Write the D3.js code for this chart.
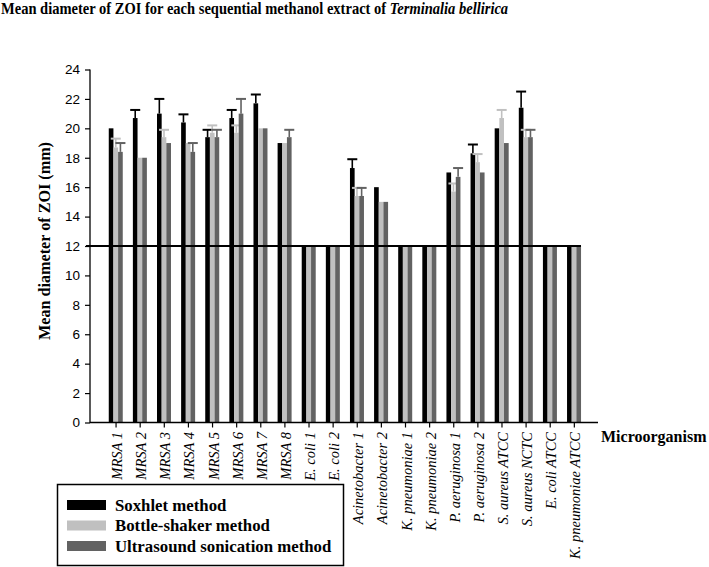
<!DOCTYPE html>
<html>
<head>
<meta charset="utf-8">
<script src="https://cdn.jsdelivr.net/npm/d3@7"></script>
<style>
  html, body { margin: 0; padding: 0; background: #fff; }
  svg { display: block; }
</style>
</head>
<body>
<svg id="chart" width="709" height="567"></svg>
<script>
const categories = ["MRSA 1","MRSA 2","MRSA 3","MRSA 4","MRSA 5","MRSA 6","MRSA 7","MRSA 8",
  "E. coli 1","E. coli 2","Acinetobacter 1","Acinetobacter 2","K. pneumoniae 1","K. pneumoniae 2",
  "P. aeruginosa 1","P. aeruginosa 2","S. aureus ATCC","S. aureus NCTC","E. coli ATCC","K. pneumoniae ATCC"];
const seriesNames = ["Soxhlet method","Bottle-shaker method","Ultrasound sonication method"];
const seriesColors = ["#000000","#c0c0c0","#626262"];
const soxhlet   = [20, 20.7, 21, 20.4, 19.4, 20.7, 21.7, 19, 12, 12, 17.3, 16, 12, 12, 17, 18.3, 20, 21.4, 12, 12];
const soxhletErr= [0, 0.55, 1, 0.55, 0.5, 0.55, 0.6, 0, 0, 0, 0.6, 0, 0, 0, 0, 0.6, 0, 1.1, 0, 0];
const bottle    = [18.7, 18, 19.4, 19, 19.7, 19.7, 20, 19, 12, 12, 15.4, 15, 12, 12, 15.7, 17.7, 20.7, 19.4, 12, 12];
const bottleErr = [0.6, 0, 0.5, 0, 0.5, 0.5, 0, 0, 0, 0, 0.55, 0, 0, 0, 0.55, 0.55, 0.55, 0.5, 0, 0];
const ultra     = [18.4, 18, 19, 18.4, 19.4, 21, 20, 19.4, 12, 12, 15.4, 15, 12, 12, 16.7, 17, 19, 19.4, 12, 12];
const ultraErr  = [0.6, 0, 0, 0.6, 0.5, 1, 0, 0.5, 0, 0, 0.55, 0, 0, 0, 0.6, 0, 0, 0.5, 0, 0];
const yTicks = [0,2,4,6,8,10,12,14,16,18,20,22,24];
const refLine = 12;

const values = [soxhlet, bottle, ultra];
const errors = [soxhletErr, bottleErr, ultraErr];

const svg = d3.select("#chart");
const serif = "'Liberation Serif','Times New Roman',serif";
const sans = "'Liberation Sans',Arial,sans-serif";

const y = d3.scaleLinear().domain([0, 24]).range([422.5, 69.5]);
const x = d3.scaleBand().domain(categories).range([104, 586.4]).padding(0);
const xs = d3.scaleBand().domain([0,1,2]).range([-7.3, 6.7]).padding(0);

// title (horizontally condensed like the reference)
const title = svg.append("text").attr("transform", "translate(1,14) scale(0.88,1)")
  .attr("font-family", serif).attr("font-weight", "bold").attr("font-size", 16.5);
title.append("tspan").text("Mean diameter of ZOI for each sequential methanol extract of ");
title.append("tspan").attr("font-style", "italic").text("Terminalia bellirica");

// bars
const groups = svg.append("g").selectAll("g").data(categories).join("g")
  .attr("transform", c => `translate(${x(c) + x.bandwidth()/2},0)`);
groups.each(function(c, i) {
  const g = d3.select(this);
  [0,1,2].forEach(s => {
    const v = values[s][i];
    g.append("rect").attr("x", xs(s)).attr("width", xs.bandwidth())
      .attr("y", y(v)).attr("height", y(0) - y(v)).attr("fill", seriesColors[s]);
    const e = errors[s][i];
    if (e > 0) {
      const cx = xs(s) + xs.bandwidth()/2;
      g.append("line").attr("x1", cx).attr("x2", cx).attr("y1", y(v)).attr("y2", y(v + e))
        .attr("stroke", seriesColors[s]).attr("stroke-width", 1.6);
      g.append("line").attr("x1", cx - 5).attr("x2", cx + 5).attr("y1", y(v + e)).attr("y2", y(v + e))
        .attr("stroke", seriesColors[s]).attr("stroke-width", 2);
    }
  });
});

// reference line at 12
svg.append("line").attr("x1", 86).attr("x2", 581).attr("y1", y(refLine)).attr("y2", y(refLine))
  .attr("stroke", "#000").attr("stroke-width", 2);

// y axis
const yAxis = svg.append("g").attr("transform", "translate(90,0)")
  .call(d3.axisLeft(y).tickValues(yTicks).tickSize(5).tickPadding(5));
yAxis.select(".domain").remove();
yAxis.append("line").attr("x1", 0).attr("x2", 0).attr("y1", y(0) + 0.5).attr("y2", y(24))
  .attr("stroke", "#000").attr("stroke-width", 1.3);
yAxis.selectAll(".tick line").attr("stroke", "#000").attr("stroke-width", 1.2);
yAxis.selectAll(".tick text").attr("font-family", sans).attr("font-size", 13.5).attr("fill", "#000");

// x axis
const xAxis = svg.append("g").attr("transform", `translate(0,${y(0)})`)
  .call(d3.axisBottom(x).tickSize(5).tickFormat(""));
xAxis.select(".domain").remove();
xAxis.append("line").attr("x1", 90).attr("x2", 598).attr("y1", 0).attr("y2", 0)
  .attr("stroke", "#000").attr("stroke-width", 1.3);
xAxis.selectAll(".tick line").attr("stroke", "#000").attr("stroke-width", 1.2);

// x labels
svg.append("g").selectAll("text").data(categories).join("text")
  .attr("transform", c => `translate(${x(c) + x.bandwidth()/2 + 1},432) rotate(-90)`)
  .attr("text-anchor", "end").attr("dy", "0.35em")
  .attr("font-family", serif).attr("font-style", "italic").attr("font-size", 14.5)
  .text(c => c);

// axis titles
svg.append("text").attr("transform", "translate(50,241) rotate(-90)")
  .attr("text-anchor", "middle").attr("font-family", serif).attr("font-weight", "bold")
  .attr("font-size", 16.5).attr("textLength", 198).attr("lengthAdjust", "spacingAndGlyphs")
  .text("Mean diameter of ZOI (mm)");
svg.append("text").attr("x", 601).attr("y", 442)
  .attr("font-family", serif).attr("font-weight", "bold").attr("font-size", 16)
  .text("Microorganism");

// legend
const lg = svg.append("g");
lg.append("rect").attr("x", 57.5).attr("y", 484.5).attr("width", 286).attr("height", 81)
  .attr("fill", "#fff").attr("stroke", "#000").attr("stroke-width", 1.5);
seriesNames.forEach((n, i) => {
  const cy = 505 + i * 20.5;
  lg.append("rect").attr("x", 67).attr("y", cy - 5).attr("width", 39).attr("height", 10)
    .attr("fill", seriesColors[i]);
  lg.append("text").attr("x", 115).attr("y", cy).attr("dy", "0.35em")
    .attr("font-family", serif).attr("font-weight", "bold").attr("font-size", 16.8).text(n);
});
</script>
</body>
</html>
